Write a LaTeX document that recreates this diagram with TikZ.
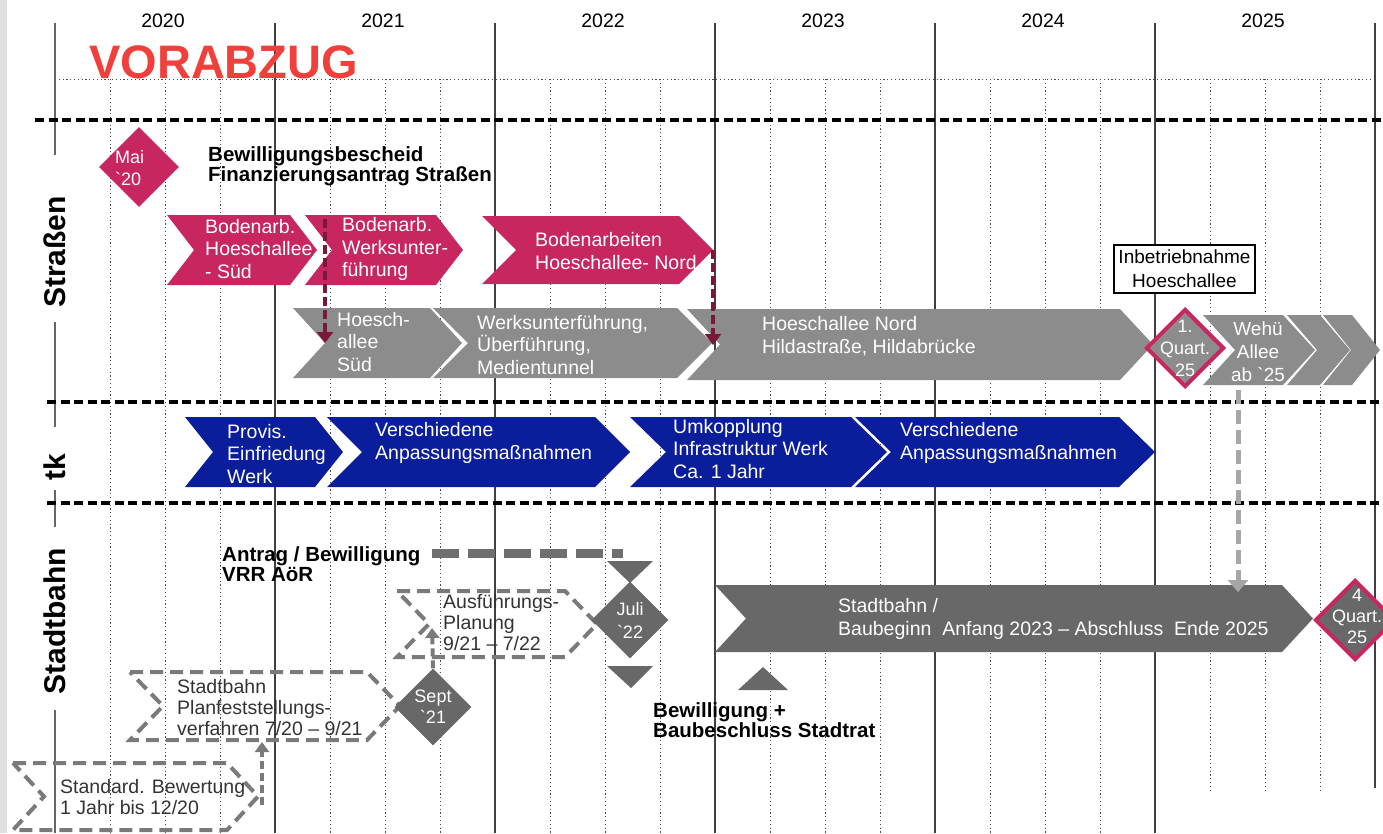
\documentclass[tikz,border=0pt]{standalone}
\usepackage{fontspec}
\setmainfont{Liberation Sans}
\usetikzlibrary{shapes.geometric, arrows.meta}

\definecolor{mag}{RGB}{200,38,96}
\definecolor{maroon}{RGB}{122,24,56}
\definecolor{lgray}{RGB}{140,140,140}
\definecolor{dgray}{RGB}{104,104,104}
\definecolor{tkblue}{RGB}{10,30,155}
\definecolor{vred}{RGB}{240,64,60}
\definecolor{dashgray}{RGB}{122,122,122}
\definecolor{arrgray}{RGB}{166,166,166}

% chevron: [depth]{style}{left}{tip}{top}{bottom}
\newcommand{\chevron}[6][30]{%
  \path[#2] (#3,#5) -- ({#4-#1},#5) -- (#4,{(#5+#6)/2}) -- ({#4-#1},#6)
    -- (#3,#6) -- ({#3+#1},{(#5+#6)/2}) -- cycle;}

\begin{document}
\begin{tikzpicture}[x=1pt, y=-1pt,
  ctext/.style={text=white, align=left, anchor=west, inner sep=0pt, font=\fontsize{19.5}{22.5}\selectfont},
  otext/.style={text=black!80, align=left, anchor=west, inner sep=0pt, font=\fontsize{19.5}{21}\selectfont},
  btext/.style={align=left, anchor=west, inner sep=0pt, font=\bfseries\fontsize{20.5}{19.5}\selectfont},
  dtext/.style={text=white, align=center, inner sep=0pt, font=\fontsize{18}{22}\selectfont},
  lane/.style={rotate=90, inner sep=0pt, font=\bfseries\fontsize{30}{30}\selectfont},
  mstone/.style={diamond, inner sep=0pt, minimum width=#1, minimum height=#1},
  ydot/.style={black!70, line width=1pt, dash pattern=on 1.2pt off 2.6pt},
  yline/.style={black!75, line width=1.5pt},
  sepline/.style={black, line width=3.3pt, dash pattern=on 9pt off 4.5pt},
  dchev/.style={draw=dashgray, line width=4pt, dash pattern=on 13pt off 7pt},
  marr/.style={maroon, line width=4pt, dash pattern=on 9pt off 4pt, -{Triangle[width=16pt,length=11pt]}},
  garr/.style={dashgray, line width=4pt, dash pattern=on 8pt off 4pt, -{Triangle[width=14pt,length=10pt]}},
  larr/.style={arrgray, line width=5pt, dash pattern=on 14pt off 6pt, -{Triangle[width=20pt,length=12pt]}}]
\useasboundingbox (0,0) rectangle (1383,833);
\fill[black!12] (0,0) rectangle (7,833);

% time axis
\foreach \yr [count=\i from 0] in {2020,...,2025}
  \node[font=\fontsize{19.5}{20}\selectfont] (y\yr) at ({163+220*\i},21) {\yr};
\draw[ydot] (55,79) -- (1372,79);
\foreach \q in {1,2,3,5,6,7,9,10,11,13,14,15,17,18,19}
  \draw[ydot] ({55+55*\q},79) -- ({55+55*\q},833);
\foreach \q in {21,22,23}
  \draw[ydot] ({55+55*\q},79) -- ({55+55*\q},790);
\foreach \q in {4,8,...,20}
  \draw[yline] ({55+55*\q},23) -- ({55+55*\q},833);
\draw[yline] (1375,23) -- (1375,788);
\draw[yline, black!60] (55,23) -- (55,155) (55,322) -- (55,427) (55,490) -- (55,527) (55,710) -- (55,833);
\draw[sepline] (35,120) -- (1383,120);
\draw[sepline] (47,402) -- (1383,402);
\draw[sepline] (47,503) -- (1383,503);

\node[text=vred, font=\bfseries\fontsize{47}{47}\selectfont, anchor=base west, inner sep=0pt] (vorab) at (89,78) {VORABZUG};

% lanes
\node[lane] (lstr) at (55,252) {Straßen};
\node[lane] (ltk) at (55,467) {tk};
\node[lane] (lsb) at (55,621) {Stadtbahn};

% Strassen
\node[mstone=80pt, fill=mag] (mai) at (139,167) {};
\node[dtext, align=left, anchor=west] (maitxt) at (115,168) {Mai\\\textasciigrave 20};
\node[btext] (bewb) at (208,166) {Bewilligungsbescheid\\Finanzierungsantrag Straßen};

\chevron[27]{fill=mag}{167}{317}{215}{285}
\chevron[27]{fill=mag}{305}{463}{215}{285}
\chevron[34]{fill=mag}{482}{713}{216}{284}
\node[ctext] (bhs) at (205,249) {Bodenarb.\\Hoeschallee\\- Süd};
\node[ctext] (bwu) at (342,249) {Bodenarb.\\Werksunter-\\führung};
\node[ctext] (bhn) at (535,251) {Bodenarbeiten\\Hoeschallee- Nord};

\node[draw, line width=1.2pt, fill=white, align=center, inner sep=0pt, minimum width=141pt, minimum height=48pt,
  font=\fontsize{19}{24}\selectfont] (inbetr) at (1184.5,269) {Inbetriebnahme\\Hoeschallee};

\chevron[32]{fill=lgray}{293}{462}{308}{378}
\chevron[35]{fill=lgray}{433}{712}{308}{378}
\chevron[33]{fill=lgray}{687}{1153}{309}{380}
\chevron[32]{fill=lgray}{1203}{1315}{315}{385}
\chevron[30]{fill=lgray}{1287}{1350}{315}{385}
\chevron[28]{fill=lgray}{1323}{1380}{315}{385}
\node[ctext] (hsued) at (337,342) {Hoesch-\\allee\\Süd};
\node[ctext] (wuf) at (477,345) {Werksunterführung,\\Überführung,\\Medientunnel};
\node[ctext] (hnord) at (762,336) {Hoeschallee Nord\\Hildastraße, Hildabrücke};
\node[mstone=78pt, fill=lgray, draw=mag, line width=4pt] (q1) at (1185,348) {};
\node[dtext] (q1txt) at (q1) {1.\\Quart.\\25};
\node[dtext, font=\fontsize{19}{23}\selectfont] (wehu) at (1258,352) {Wehü\\Allee\\ab \textasciigrave 25};

\coordinate (wustop) at (325,219);
\coordinate (hsuedin) at (325,343);
\coordinate (nordtip) at (713,250);
\coordinate (nordin) at (713,345);
\draw[marr] (wustop) -- (hsuedin);
\draw[marr] (nordtip) -- (nordin);

% tk
\chevron[28]{fill=tkblue}{185}{343}{417}{487}
\chevron[35]{fill=tkblue}{327}{630}{417}{487}
\chevron[36]{fill=tkblue}{630}{887}{417}{487}
\chevron[36]{fill=tkblue}{855}{1155}{417}{487}
\node[ctext] (provis) at (227,454) {Provis.\\Einfriedung\\Werk};
\node[ctext] (versch1) at (375,443) {Verschiedene\\Anpassungsmaßnahmen};
\node[ctext] (umk) at (673,449) {Umkopplung\\Infrastruktur Werk\\Ca. 1 Jahr};
\node[ctext] (versch2) at (900,443) {Verschiedene\\Anpassungsmaßnahmen};

% Stadtbahn
\node[btext] (antrag) at (222,564) {Antrag / Bewilligung\\VRR AöR};
\draw[dgray!95, line width=9pt, dash pattern=on 27pt off 9pt] (432,553) -- (623,553);
\fill[dgray] (607,561) -- (653,561) -- (630,583) -- cycle;
\fill[dgray] (607,666) -- (653,666) -- (631,688) -- cycle;
\fill[dgray] (738,690) -- (788,690) -- (763,667) -- cycle;

\chevron[32]{dchev}{397}{597}{591}{657}
\chevron[33]{dchev}{130}{400}{672}{740}
\chevron[31]{dchev}{13}{258}{763}{830}
\node[otext] (ausf) at (443,623) {Ausführungs-\\Planung\\9/21 – 7/22};
\node[otext] (pfv) at (177,708) {Stadtbahn\\Planfeststellungs-\\verfahren 7/20 – 9/21};
\node[otext] (stdb) at (60,797) {Standard. Bewertung\\1 Jahr bis 12/20};

\node[mstone=77pt, fill=dgray] (juli) at (630,620) {};
\node[dtext, font=\fontsize{18}{23}\selectfont] (julitxt) at (juli) {Juli\\\textasciigrave 22};
\node[mstone=77pt, fill=dgray] (sept) at (433,707) {};
\node[dtext, font=\fontsize{18}{21}\selectfont] (septtxt) at (sept) {Sept\\\textasciigrave 21};

\chevron[31]{fill=dgray}{715}{1313}{585}{652}
\node[ctext] (sbbau) at (838,619) {Stadtbahn /\\Baubeginn\ \ Anfang 2023 – Abschluss\ \ Ende 2025};
\node[mstone=80pt, fill=dgray, draw=mag, line width=4pt] (q4) at (1355,620) {};
\node[dtext, font=\fontsize{18}{21}\selectfont] (q4txt) at (1357,616) {4\\Quart.\\25};
\node[btext] (bstadt) at (653,720) {Bewilligung +\\Baubeschluss Stadtrat};

\coordinate (stdtip) at (262,805);
\coordinate (pfbot) at (262,742);
\coordinate (ausnotch) at (432,628);
\coordinate (wehubot) at (1238,390);
\coordinate (sbtop) at (1238,592);
\draw[garr] (stdtip) -- (pfbot);
\draw[garr] (sept.north) -- (ausnotch);
\draw[larr] (wehubot) -- (sbtop);
\end{tikzpicture}
\end{document}
